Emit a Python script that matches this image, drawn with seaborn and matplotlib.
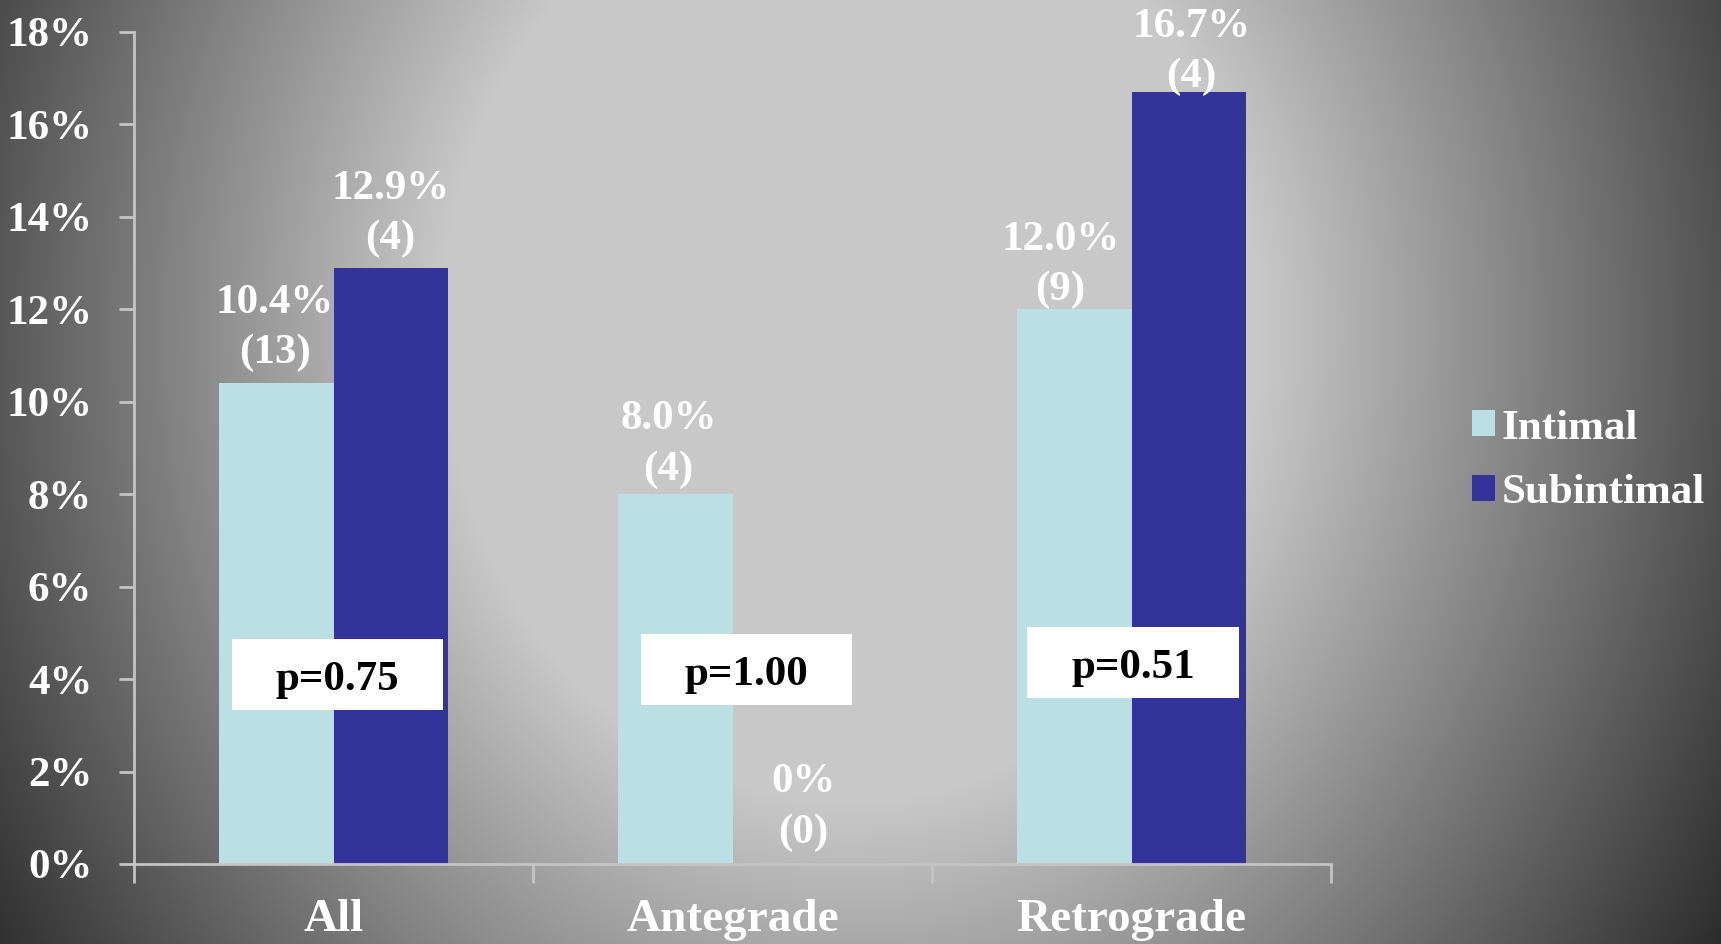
import numpy as np
import pandas as pd
import matplotlib
matplotlib.use("Agg")
import matplotlib.pyplot as plt
from matplotlib.patches import Rectangle
import seaborn as sns

# ---------------- data ----------------
groups = ["All", "Antegrade", "Retrograde"]
series = ["Intimal", "Subintimal"]
intimal_pct = [10.4, 8.0, 12.0]
subintimal_pct = [12.9, 0.0, 16.7]
intimal_labels = ["10.4%\n(13)", "8.0%\n(4)", "12.0%\n(9)"]
subintimal_labels = ["12.9%\n(4)", "0%\n(0)", "16.7%\n(4)"]
p_values = ["p=0.75", "p=1.00", "p=0.51"]
y_ticks = [0, 2, 4, 6, 8, 10, 12, 14, 16, 18]
y_tick_labels = [f"{t}%" for t in y_ticks]

df = pd.DataFrame({
    "group": groups * 2,
    "type": [series[0]] * 3 + [series[1]] * 3,
    "value": intimal_pct + subintimal_pct,
})

# label offsets (points) as placed on the original slide
intimal_offsets = [(-1, 8), (-5, 4), (-10, 0)]
subintimal_offsets = [(0, 7), (10, 9), (2, -3)]

# ---------------- style ----------------
sns.set_theme(style="white")
plt.rcParams["font.family"] = ["Liberation Serif", "DejaVu Serif"]
plt.rcParams["font.weight"] = "bold"

W, H = 1721, 944
fig = plt.figure(figsize=(W / 100, H / 100), dpi=100)

# background radial gradient
bg = fig.add_axes([0, 0, 1, 1], zorder=0)
yy, xx = np.mgrid[0:H, 0:W]
cx, cy = 850.0, 330.0
d = np.sqrt((xx - cx) ** 2 + ((yy - cy) / 1.155) ** 2)
v = 200 - 115 * np.clip((d - 410) / 450, 0, None)
v = np.clip(v, 40, 200) / 255.0
bg.imshow(np.dstack([v, v, v]), aspect="auto", extent=[0, W, H, 0])
bg.set_axis_off()

ax = fig.add_axes([134 / W, 1 - 864 / H, (1331 - 134) / W, (864 - 32) / H], zorder=1)
ax.set_facecolor("none")

colors = ["#BAE0E3", "#333399"]
sns.barplot(data=df, x="group", y="value", hue="type", palette=colors,
            width=0.572, gap=0, saturation=1, linewidth=0, ax=ax)

ax.set_xlim(-0.5, 2.5)
ax.set_ylim(0, 18)
ax.set_xlabel("")
ax.set_ylabel("")

for s in ["top", "right"]:
    ax.spines[s].set_visible(False)
for s in ["left", "bottom"]:
    ax.spines[s].set_color("#c4c4c4")
    ax.spines[s].set_linewidth(2)

ax.set_yticks(y_ticks)
ax.set_yticklabels(y_tick_labels)
ax.tick_params(axis="y", length=11, width=2, color="#c4c4c4", direction="out",
               pad=19, labelsize=31, labelcolor="white", left=True)
ax.set_xticks([0, 1, 2])
ax.set_xticklabels(groups)
ax.set_xticks([-0.5, 0.5, 1.5, 2.5], minor=True)
ax.tick_params(axis="x", which="major", length=0, pad=25, labelsize=34,
               labelcolor="white")
ax.tick_params(axis="x", which="minor", length=14, width=2, color="#c4c4c4",
               direction="out", bottom=True)
for lab in ax.get_xticklabels() + ax.get_yticklabels():
    lab.set_fontweight("bold")

# bar value labels
for cont, labs, offs in zip(ax.containers, [intimal_labels, subintimal_labels],
                            [intimal_offsets, subintimal_offsets]):
    for bar, lab, off in zip(cont.patches, labs, offs):
        ax.annotate(lab, (bar.get_x() + bar.get_width() / 2, bar.get_height()),
                    xytext=off, textcoords="offset points", ha="center",
                    va="bottom", color="white", fontsize=31, fontweight="bold",
                    linespacing=1.4, annotation_clip=False)

# p-value boxes
box_x = [0.01, 1.035, 2.004]
box_y = [4.09, 4.2, 4.37]
bw, bh = 0.531, 1.536
for xc, yc, txt in zip(box_x, box_y, p_values):
    ax.add_patch(Rectangle((xc - bw / 2, yc - bh / 2), bw, bh, facecolor="white",
                           edgecolor="none", zorder=5))
    ax.text(xc, yc - 0.12, txt, ha="center", va="center", fontsize=31,
            fontweight="bold", color="black", zorder=6)

# legend
handles, labels = ax.get_legend_handles_labels()
if ax.get_legend() is not None:
    ax.get_legend().remove()
fig.legend(handles, labels, loc="center left",
           bbox_to_anchor=(1433 / W, 1 - 461 / H), frameon=False,
           handlelength=0.55, handleheight=0.55,
           handletextpad=0.15, labelspacing=0.62, labelcolor="white",
           prop={"weight": "bold", "size": 31})

fig.savefig("out.png", dpi=100)
